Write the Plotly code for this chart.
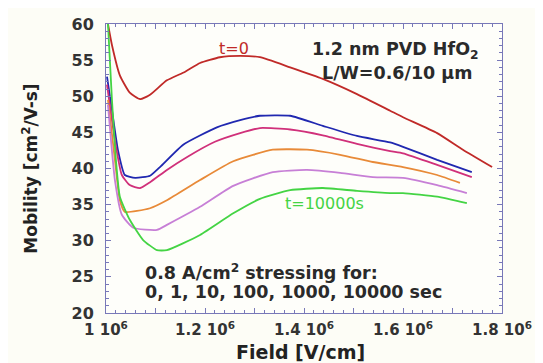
import plotly.graph_objects as go

# Field [V/cm] (x) and mobility [cm^2/V-s] (y) for each stress time
x_t0 = [1.004e6, 1.012e6, 1.028e6, 1.048e6, 1.069e6, 1.089e6, 1.123e6, 1.160e6, 1.190e6, 1.230e6,
        1.271e6, 1.311e6, 1.372e6, 1.438e6, 1.507e6, 1.574e6, 1.600e6, 1.669e6, 1.721e6, 1.780e6]
y_t0 = [60.0, 57.1, 52.9, 50.5, 49.6, 50.2, 52.2, 53.4, 54.6, 55.4,
        55.6, 55.4, 54.0, 52.4, 50.3, 48.0, 47.1, 44.9, 42.6, 40.2]

x_t1 = [1.002e6, 1.012e6, 1.024e6, 1.038e6, 1.059e6, 1.089e6, 1.109e6, 1.156e6, 1.224e6, 1.271e6,
        1.311e6, 1.372e6, 1.438e6, 1.507e6, 1.574e6, 1.600e6, 1.669e6, 1.739e6]
y_t1 = [52.7, 48.1, 42.6, 39.1, 38.7, 39.0, 40.2, 43.3, 45.7, 46.7,
        47.3, 47.3, 45.9, 44.5, 43.6, 43.0, 41.2, 39.5]

x_t10 = [1.002e6, 1.018e6, 1.032e6, 1.048e6, 1.069e6, 1.089e6, 1.123e6, 1.164e6, 1.220e6, 1.271e6,
         1.311e6, 1.372e6, 1.438e6, 1.507e6, 1.574e6, 1.600e6, 1.669e6, 1.739e6]
y_t10 = [51.6, 43.9, 39.1, 37.7, 37.3, 38.1, 39.8, 41.6, 43.7, 44.9,
         45.6, 45.4, 44.6, 43.4, 42.4, 42.1, 40.5, 38.8]

x_t100 = [1.004e6, 1.018e6, 1.028e6, 1.038e6, 1.089e6, 1.123e6, 1.190e6, 1.257e6, 1.337e6, 1.406e6,
          1.473e6, 1.539e6, 1.600e6, 1.669e6, 1.715e6]
y_t100 = [49.5, 41.2, 35.6, 34.0, 34.5, 35.6, 38.4, 41.0, 42.6, 42.6,
          41.9, 40.9, 40.2, 39.1, 38.0]

x_t1000 = [1.004e6, 1.018e6, 1.032e6, 1.055e6, 1.103e6, 1.123e6, 1.190e6, 1.257e6, 1.337e6, 1.406e6,
           1.473e6, 1.539e6, 1.600e6, 1.669e6, 1.729e6]
y_t1000 = [48.8, 38.4, 33.6, 31.8, 31.5, 32.2, 34.7, 37.6, 39.5, 39.8,
           39.4, 38.8, 38.7, 37.7, 36.6]

x_t10000 = [1.004e6, 1.012e6, 1.020e6, 1.028e6, 1.048e6, 1.075e6, 1.103e6, 1.123e6, 1.190e6, 1.257e6,
            1.311e6, 1.372e6, 1.438e6, 1.507e6, 1.574e6, 1.600e6, 1.669e6, 1.729e6]
y_t10000 = [60.0, 49.5, 41.2, 36.1, 32.9, 30.1, 28.7, 28.7, 30.8, 33.8,
            35.8, 37.0, 37.3, 36.9, 36.6, 36.6, 36.1, 35.2]

x_tickvals = [1.0e6, 1.1e6, 1.2e6, 1.3e6, 1.4e6, 1.5e6, 1.6e6, 1.7e6, 1.8e6]
x_ticktext = ["1 10<sup>6</sup>", "", "1.2 10<sup>6</sup>", "", "1.4 10<sup>6</sup>", "",
              "1.6 10<sup>6</sup>", "", "1.8 10<sup>6</sup>"]
y_tickvals = [20, 25, 30, 35, 40, 45, 50, 55, 60]

series = [
    ("t=0", x_t0, y_t0, "#c02a28"),
    ("t=1", x_t1, y_t1, "#2028b0"),
    ("t=10", x_t10, y_t10, "#d0307a"),
    ("t=100", x_t100, y_t100, "#e88a38"),
    ("t=1000", x_t1000, y_t1000, "#c77fd6"),
    ("t=10000", x_t10000, y_t10000, "#44d444"),
]

fig = go.Figure()
for name, xs, ys, col in series:
    fig.add_trace(go.Scatter(x=xs, y=ys, mode="lines", name=name,
                             line=dict(color=col, width=1.8, shape="spline", smoothing=0.5)))

FONT = "DejaVu Sans"
axis_common = dict(showline=True, mirror="allticks", linecolor="#7878b8", linewidth=1,
                   ticks="inside", tickcolor="#7878b8", ticklen=5, showgrid=False,
                   zeroline=False, automargin=False)

fig.update_xaxes(range=[1.0e6, 1.8e6], tickvals=x_tickvals, ticktext=x_ticktext,
                 ticklabelstandoff=3,
                 tickfont=dict(family=FONT, size=15, color="#333", weight="bold"),
                 minor=dict(ticks="inside", dtick=0.02e6, ticklen=3, tickcolor="#7878b8"),
                 **axis_common)
fig.update_yaxes(range=[20, 60], tickvals=y_tickvals, ticklabelstandoff=8,
                 tickfont=dict(family=FONT, size=16, color="#333", weight="bold"),
                 minor=dict(ticks="inside", dtick=1, ticklen=3, tickcolor="#7878b8"),
                 title=dict(text="<b>Mobility [cm<sup>2</sup>/V-s]</b>", standoff=29,
                            font=dict(family=FONT, size=17, color="#222")),
                 **axis_common)

# x-axis title placed as a paper-anchored label so it sits fully inside the page
fig.add_annotation(xref="paper", yref="paper", x=0.49, y=-0.134, yanchor="middle",
                   text="<b>Field [V/cm]</b>", showarrow=False,
                   font=dict(family=FONT, size=19, color="#222"))

ann_font = dict(family=FONT, size=17.5, color="#2a2a2a", weight="bold")
fig.add_annotation(x=1.259e6, y=56.6, text="t=0", showarrow=False,
                   font=dict(family=FONT, size=16, color="#c02a28"))
fig.add_annotation(x=1.584e6, y=56.4, text="1.2 nm PVD HfO<sub>2</sub>", showarrow=False, font=ann_font)
fig.add_annotation(x=1.588e6, y=53.2, text="L/W=0.6/10 \u03bcm", showarrow=False, font=ann_font)
fig.add_annotation(x=1.442e6, y=35.2, text="t=10000s", showarrow=False,
                   font=dict(family=FONT, size=16, color="#44d444"))
fig.add_annotation(x=1.0747e6, y=25.7, text="0.8 A/cm<sup>2</sup> stressing for:", showarrow=False,
                   xanchor="left", font=ann_font)
fig.add_annotation(x=1.0747e6, y=22.9, text="0, 1, 10, 100, 1000, 10000 sec", showarrow=False,
                   xanchor="left", font=ann_font)

# page body adds an 8 px offset, so margins are shifted to keep the plot where the reference has it
fig.update_layout(width=543, height=363, showlegend=False,
                  margin=dict(l=98, r=49, t=16, b=58),
                  paper_bgcolor="#fdfdf6", plot_bgcolor="#fefefa")

fig.write_html("out.html")
